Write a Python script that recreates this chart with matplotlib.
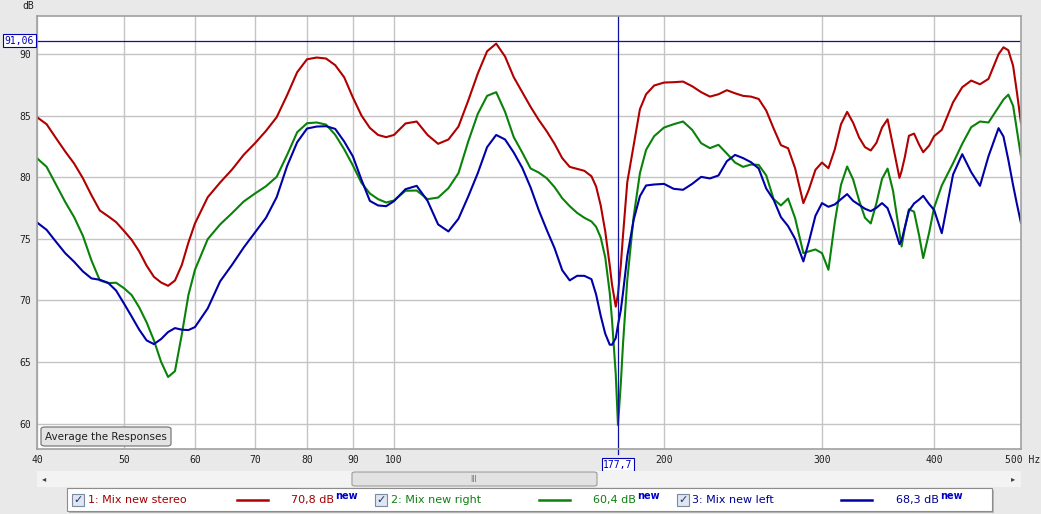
import matplotlib.pyplot as plt
import matplotlib.transforms as mtransforms
from matplotlib.patches import Rectangle, FancyBboxPatch
from matplotlib.ticker import NullLocator

# frequency grid (Hz) shared by the three measurements
freq = [40, 41, 42, 43, 44, 45, 46, 47, 48, 49, 50, 51, 52, 53, 54, 55, 56, 57, 58, 59,
        60, 62, 64, 66, 68, 70, 72, 74, 76, 78, 80, 82, 84, 86, 88, 90, 92, 94, 96, 98,
        100, 103, 106, 109, 112, 115, 118, 121, 124, 127, 130, 133, 136, 139, 142, 145,
        148, 151, 154, 157, 160, 163, 166, 168, 170, 172, 174, 175, 176.7, 177.7, 179,
        180, 182, 185, 188, 191, 195, 200, 205, 210, 215, 220, 225, 230, 235, 240, 245,
        250, 255, 260, 265, 270, 275, 280, 286, 290, 295, 300, 305, 310, 315, 320, 325,
        330, 335, 340, 345, 350, 355, 360, 366, 368, 371, 375, 380, 385, 389, 395, 400,
        408, 420, 430, 440, 450, 460, 472, 478, 484, 490, 495, 500]

stereo_db = [84.87, 84.3, 83.17, 82.09, 81.11, 79.92, 78.54, 77.3, 76.84, 76.36, 75.65,
             74.92, 73.98, 72.82, 71.92, 71.46, 71.19, 71.62, 72.87, 74.7, 76.25, 78.38,
             79.57, 80.63, 81.82, 82.76, 83.76, 84.87, 86.65, 88.52, 89.57, 89.71, 89.63,
             89.09, 88.11, 86.46, 85.0, 84.0, 83.43, 83.25, 83.43, 84.36, 84.52, 83.43,
             82.71, 83.06, 84.11, 86.22, 88.41, 90.22, 90.84, 89.79, 88.11, 86.9, 85.71,
             84.65, 83.73, 82.71, 81.55, 80.84, 80.68, 80.52, 80.08, 79.25, 77.71, 75.6,
             72.82, 71.3, 69.5, 70.5, 72.87, 75.25, 79.6, 82.6, 85.52, 86.73, 87.44, 87.68,
             87.71, 87.76, 87.38, 86.9, 86.54, 86.73, 87.06, 86.81, 86.6, 86.54, 86.35,
             85.41, 83.95, 82.6, 82.35, 80.73, 77.9, 78.98, 80.6, 81.19, 80.73, 82.25,
             84.3, 85.3, 84.41, 83.22, 82.44, 82.17, 82.79, 84.03, 84.7, 82.55, 79.95,
             80.5, 81.6, 83.36, 83.54, 82.63, 82.03, 82.57, 83.33, 83.84, 86.08, 87.3,
             87.84, 87.54, 87.98, 89.98, 90.54, 90.3, 89.03, 86.79, 84.38]

right_db = [81.54, 80.84, 79.41, 78.0, 76.76, 75.25, 73.25, 71.63, 71.41, 71.44, 71.0,
            70.44, 69.44, 68.22, 66.76, 65.03, 63.79, 64.27, 67.22, 70.44, 72.49, 74.98,
            76.17, 77.09, 78.03, 78.68, 79.27, 80.03, 81.8, 83.65, 84.38, 84.44, 84.27,
            83.44, 82.27, 80.95, 79.54, 78.68, 78.22, 77.95, 78.11, 78.9, 78.92, 78.22,
            78.35, 79.11, 80.33, 82.9, 85.14, 86.6, 86.9, 85.3, 83.25, 82.0, 80.71, 80.38,
            79.92, 79.2, 78.3, 77.65, 77.11, 76.71, 76.41, 75.98, 75.11, 73.49, 70.6,
            68.43, 64.0, 59.9, 63.25, 66.43, 71.65, 76.8, 80.33, 82.22, 83.33, 84.03,
            84.3, 84.52, 83.84, 82.76, 82.36, 82.63, 81.92, 81.19, 80.84, 81.03, 81.0,
            80.14, 78.22, 77.71, 78.27, 76.68, 73.84, 73.98, 74.14, 73.84, 72.49, 76.33,
            79.38, 80.87, 79.81, 78.11, 76.71, 76.25, 77.9, 79.87, 80.7, 78.9, 75.52,
            74.38, 75.84, 77.4, 77.2, 75.25, 73.44, 75.52, 77.52, 79.33, 81.14, 82.71,
            84.06, 84.52, 84.44, 85.68, 86.3, 86.7, 85.79, 83.71, 81.68]

left_db = [76.33, 75.73, 74.76, 73.84, 73.14, 72.36, 71.79, 71.68, 71.44, 70.81, 69.76,
           68.7, 67.63, 66.76, 66.46, 66.87, 67.44, 67.76, 67.63, 67.6, 67.84, 69.36,
           71.55, 72.9, 74.3, 75.52, 76.71, 78.38, 80.9, 82.84, 83.95, 84.11, 84.14,
           83.92, 82.9, 81.68, 79.79, 78.08, 77.71, 77.65, 78.06, 79.03, 79.3, 78.08,
           76.17, 75.6, 76.63, 78.44, 80.33, 82.44, 83.43, 83.06, 82.0, 80.76, 79.17,
           77.33, 75.73, 74.25, 72.46, 71.63, 72.0, 72.0, 71.73, 70.49, 68.76, 67.3,
           66.41, 66.41, 66.95, 68.0, 69.22, 70.6, 73.6, 76.54, 78.46, 79.33, 79.41,
           79.46, 79.06, 78.98, 79.46, 80.03, 79.9, 80.14, 81.3, 81.81, 81.55, 81.22,
           80.71, 79.08, 78.17, 76.76, 76.03, 75.0, 73.17, 74.73, 76.87, 77.9, 77.6,
           77.79, 78.22, 78.63, 78.08, 77.76, 77.44, 77.25, 77.52, 77.9, 77.49, 76.28,
           74.57, 74.87, 75.9, 77.27, 77.87, 78.19, 78.49, 77.82, 77.35, 75.46, 80.22,
           81.87, 80.41, 79.3, 81.71, 83.98, 83.3, 81.41, 79.34, 77.76, 76.28]

x_ticks = [40, 50, 60, 70, 80, 90, 100, 200, 300, 400]
y_ticks = [60, 65, 70, 75, 80, 85, 90]
cursor_hz = 177.7
cursor_db = 91.06
names = ['1: Mix new stereo', '2: Mix new right', '3: Mix new left']
readouts = ['70,8 dB', '60,4 dB', '68,3 dB']
colors = ['#b00000', '#0a820a', '#0000a8']
label_colors = ['#a00000', '#108010', '#000090']

W, H = 1041, 514
fig = plt.figure(figsize=(W / 100, H / 100), dpi=100)
fig.patch.set_facecolor('#e9e9e9')


def fx(px):
    return px / W


def fy(py):
    return 1 - py / H


MONO = 'DejaVu Sans Mono'

ax = fig.add_axes([fx(37), fy(449), fx(1021) - fx(37), fy(16) - fy(449)])
ax.set_facecolor('white')
ax.set_xscale('log')
ax.set_xlim(40, 500)
ax.set_ylim(57.95, 93.08)
ax.set_xticks(x_ticks)
ax.set_xticklabels([str(t) for t in x_ticks])
ax.xaxis.set_minor_locator(NullLocator())
ax.set_yticks(y_ticks)
ax.tick_params(length=0, labelsize=7, labelcolor='#202020', pad=4)
for lab in ax.get_xticklabels() + ax.get_yticklabels():
    lab.set_family(MONO)
ax.grid(True, color='#c4c4c4', lw=1)
ax.set_axisbelow(True)
for s in ax.spines.values():
    s.set_color('#a0a0a0')
    s.set_linewidth(1.2)

ax.plot(freq, stereo_db, color=colors[0], lw=1.5)
ax.plot(freq, right_db, color=colors[1], lw=1.5)
ax.plot(freq, left_db, color=colors[2], lw=1.5)

# cursors
ax.axhline(cursor_db, color='#1010a0', lw=0.9)
trans_x = mtransforms.blended_transform_factory(ax.transData, ax.transAxes)
trans_y = mtransforms.blended_transform_factory(ax.transAxes, ax.transData)
ax.plot([cursor_hz, cursor_hz], [1, -0.012], color='#1010a0', lw=0.9,
        transform=trans_x, clip_on=False)
ax.text(cursor_hz, -0.025, '177,7', transform=trans_x, ha='center', va='top',
        fontsize=7, family=MONO, color='#0000b0',
        bbox=dict(boxstyle='square,pad=0.15', fc='white', ec='#0000b0', lw=0.8))
ax.text(-0.003, cursor_db, '91,06', transform=trans_y, ha='right', va='center',
        fontsize=7, family=MONO, color='#0000b0',
        bbox=dict(boxstyle='square,pad=0.15', fc='white', ec='#0000b0', lw=0.8))

fig.text(fx(22), fy(6), 'dB', ha='left', va='center', fontsize=7,
         family=MONO, color='#202020')
fig.text(fx(1005), fy(460), '500 Hz', ha='left', va='center', fontsize=7,
         family=MONO, color='#202020')

# button inside plot
btn = FancyBboxPatch((fx(41), fy(446)), fx(171) - fx(41), fy(427) - fy(446),
                     boxstyle='round,pad=0,rounding_size=0.004',
                     transform=fig.transFigure, fc='#e4e4e4', ec='#7a7a7a', lw=0.9)
fig.add_artist(btn)
fig.text(fx(106), fy(437), 'Average the Responses', ha='center', va='center',
         fontsize=7.5, color='#202020')

# scrollbar
fig.add_artist(Rectangle((fx(37), fy(487)), fx(1021) - fx(37), fy(471) - fy(487),
                         transform=fig.transFigure, fc='#f3f3f3', ec='none'))
fig.add_artist(FancyBboxPatch((fx(352), fy(486)), fx(597) - fx(352), fy(472) - fy(486),
                              boxstyle='round,pad=0,rounding_size=0.003',
                              transform=fig.transFigure, fc='#e2e2e2', ec='#9c9c9c', lw=0.8))
fig.text(fx(474), fy(479), 'III', ha='center', va='center', fontsize=5.5, color='#707070')
fig.text(fx(44), fy(479), '\u25c2', ha='center', va='center', fontsize=6, color='#404040')
fig.text(fx(1013), fy(479), '\u25b8', ha='center', va='center', fontsize=6, color='#404040')

# legend bar
fig.add_artist(Rectangle((fx(69), fy(513)), fx(994) - fx(69), fy(490) - fy(513),
                         transform=fig.transFigure, fc='#b8b8b8', ec='none'))
fig.add_artist(Rectangle((fx(67), fy(511)), fx(992) - fx(67), fy(488) - fy(511),
                         transform=fig.transFigure, fc='white', ec='#8c8c8c', lw=0.8))

box_x = [72, 375, 677]
name_x = [88, 391, 692]
line_x = [(237, 268), (539, 570), (841, 872)]
val_end = [334, 636, 939]
for i in range(3):
    fig.add_artist(Rectangle((fx(box_x[i]), fy(506)), fx(12), fy(494) - fy(506),
                             transform=fig.transFigure, fc='#dfe6f0', ec='#7a8aa0', lw=0.8))
    fig.text(fx(box_x[i] + 6), fy(500), '\u2713', ha='center', va='center',
             fontsize=8, color='#203080', fontweight='bold')
    fig.text(fx(name_x[i]), fy(500), names[i], ha='left', va='center',
             fontsize=8, color=label_colors[i])
    fig.add_artist(plt.Line2D([fx(line_x[i][0]), fx(line_x[i][1])], [fy(500), fy(500)],
                              transform=fig.transFigure, color=colors[i], lw=1.8))
    fig.text(fx(val_end[i]), fy(500), readouts[i], ha='right', va='center',
             fontsize=8, color=label_colors[i])
    fig.text(fx(val_end[i] + 1), fy(496), 'new', ha='left', va='center',
             fontsize=7, color='#0000c8', fontweight='bold')

plt.savefig('out.png', dpi=100, facecolor=fig.get_facecolor())
